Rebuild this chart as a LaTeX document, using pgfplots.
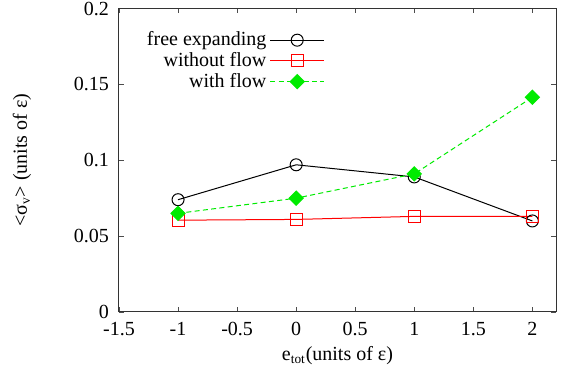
\documentclass[border=0pt]{standalone}
\usepackage{pgfplots}
\pgfplotsset{compat=1.18}
\usepackage{fontspec}
\setmainfont{Liberation Serif}
\definecolor{mygreen}{RGB}{0,235,0}
\begin{document}
\begin{tikzpicture}
\begin{axis}[
  scale only axis,
  width=262.2pt, height=182.1pt,
  at={(0,0)}, anchor=south west,
  xmin=-1.5, xmax=2.2, ymin=0, ymax=0.2,
  /pgf/number format/assume math mode=true,
  xtick={-1.5,-1,-0.5,0,0.5,1,1.5,2},
  xticklabels={-1.5,-1,-0.5,0,0.5,1,1.5,2},
  ytick={0,0.05,0.1,0.15,0.2},
  yticklabels={0,0.05,0.1,0.15,0.2},
  tick align=inside,
  major tick length=3pt,
  every tick/.style={black!70, line width=0.5pt},
  axis line style={black!80, line width=0.6pt},
  tick label style={font=\rmfamily\fontsize{12}{14}\selectfont},
  xticklabel style={yshift=-2.5pt},
  yticklabel style={xshift=-2.5pt},
  xlabel={e\textsubscript{tot}(units of ε)},
  ylabel={<σ\textsubscript{v}> (units of ε)},
  label style={font=\rmfamily\fontsize{12}{14}\selectfont},
  xlabel style={at={(axis description cs:0.5,-0.142)}, anchor=center},
  ylabel style={at={(axis description cs:-0.222,0.5)}, anchor=center, rotate=0},
  legend style={draw=none, fill=none, at={(axis description cs:0.483,0.946)}, anchor=north east,
    font=\rmfamily\fontsize{12}{14}\selectfont, row sep=-1.5pt},
  legend cell align=right,
  legend plot pos=right,
  legend image code/.code={\draw[mark repeat=2,mark phase=2,#1] plot coordinates {(0cm,0cm) (0.57cm,0cm) (1.14cm,0cm)};},
]
\addplot[black, line width=0.6pt, mark=o, mark size=3.6pt, mark options={solid}] coordinates {
(-1,0.074) (0,0.097) (1,0.089) (2,0.060)};
\addlegendentry{free expanding}
\addplot[red, line width=0.6pt, mark=square, mark size=3.6pt, mark options={solid}] coordinates {
(-1,0.0605) (0,0.061) (1,0.063) (2,0.063)};
\addlegendentry{without flow}
\addplot[mygreen, line width=0.6pt, densely dashed, mark=square*, mark size=3pt, mark options={solid, fill=mygreen, rotate=45}] coordinates {
(-1,0.065) (0,0.075) (1,0.091) (2,0.1415)};
\addlegendentry{with flow}
\end{axis}
\pgfresetboundingbox
\path (-71.4pt,-42pt) rectangle (266.4pt,187.2pt);
\end{tikzpicture}
\end{document}
